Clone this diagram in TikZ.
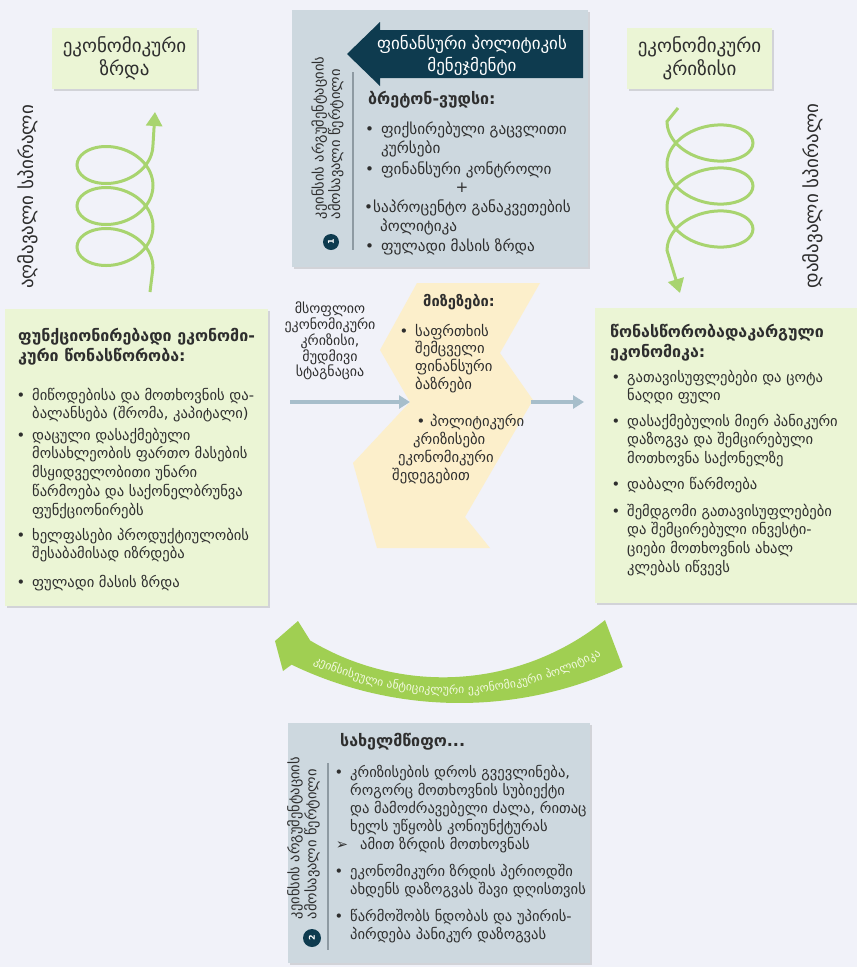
\documentclass[tikz,border=0pt]{standalone}
\usepackage{fontspec}
\setmainfont{DejaVu Sans}
\usetikzlibrary{arrows.meta,shadows,decorations.text}

\definecolor{bgc}{HTML}{F1F2F9}
\definecolor{lgreen}{HTML}{EBF5D5}
\definecolor{gboxc}{HTML}{CDD8DF}
\definecolor{dteal}{HTML}{0E3B4F}
\definecolor{spig}{HTML}{A8D46F}
\definecolor{bandc}{HTML}{A0CF52}
\definecolor{bandtxt}{HTML}{F2F9DF}
\definecolor{beige}{HTML}{FCEFCB}
\definecolor{flowc}{HTML}{A7BECB}
\definecolor{txtc}{HTML}{2E2E2E}
\definecolor{linec}{HTML}{8E9AA2}

\newcommand{\fsLabel}{\fontsize{19}{23}\selectfont}
\newcommand{\fsSide}{\fontsize{19}{20}\selectfont}
\newcommand{\fsArrow}{\fontsize{17}{22}\selectfont}
\newcommand{\fsTop}{\fontsize{15.2}{19.2}\selectfont}
\newcommand{\fsTitle}{\fontsize{16}{20}\selectfont\bfseries}
\newcommand{\fsBody}{\fontsize{14.6}{18.8}\selectfont}
\newcommand{\fsBot}{\fontsize{14.6}{18}\selectfont}
\newcommand{\fsVert}{\fontsize{14.5}{15.5}\selectfont}
\newcommand{\fsVertB}{\fontsize{14.5}{17}\selectfont}
\newcommand{\fsMid}{\fontsize{14}{15}\selectfont}
\newcommand{\fsZig}{\fontsize{14.7}{17.7}\selectfont}
\newcommand{\fsBand}{\fontsize{11.6}{11.6}\selectfont}
\newcommand{\bu}{\llap{•\hspace{7pt}}}

\tikzset{
 shad/.style={drop shadow={shadow xshift=1.5pt,shadow yshift=-1.5pt,opacity=0.22,fill=black!60}},
 labelbox/.style={fill=lgreen, shad, minimum width=145pt, minimum height=61pt, inner sep=0pt, font=\fsLabel, text=txtc, align=center},
 bigbox/.style={fill=lgreen, shad, anchor=north west, inner sep=0pt},
 greybox/.style={fill=gboxc, shad, anchor=north west, inner sep=0pt},
 txt/.style={text=txtc, inner sep=0pt, anchor=base west},
 spiral/.style={draw=spig, line width=3pt, -{Triangle[width=16pt,length=14pt]}},
 flow/.style={draw=flowc, line width=4pt, -{Triangle[width=13pt,length=11pt]}},
 vtext/.style={rotate=90, inner sep=0pt, text=txtc},
 numdot/.style={circle, fill=dteal, minimum size=16pt, inner sep=0pt, text=white, font=\fontsize{8}{8}\selectfont\bfseries, rotate=90},
}

\begin{document}
\begin{tikzpicture}[x=1pt,y=-1pt]
\fill[bgc] (0,0) rectangle (857,967);
\useasboundingbox (0,0) rectangle (857,967);

% ---------- top labels
\node[labelbox] (growth) at (124.5,58.5) {ეკონომიკური\\ზრდა};
\node[labelbox] (crisis) at (699.5,58.5) {ეკონომიკური\\კრიზისი};

% ---------- spirals
\coordinate (lsS) at (150,292);
\coordinate (lsE) at (155,112);
\draw[spiral] (lsS) -- plot[smooth, domain=0:3, samples=121, variable=\t] ({115+38*cos(360*\t)},{267.5-41*\t-28*sin(360*\t)}) -- (lsE);
\coordinate (rsS) at (678,108);
\coordinate (rsE) at (680,293);
\draw[spiral] (rsS) -- plot[smooth, domain=0:3, samples=121, variable=\t] ({710-43*cos(360*\t)},{121.5+43*\t+28*sin(360*\t)}) -- (rsE);

\node[vtext, font=\fsSide] (upsp) at (28,197) {აღმავალი სპირალი};
\node[vtext, font=\fsSide] (downsp) at (813,196) {დამავალი სპირალი};

% ---------- top grey box
\node[greybox, minimum width=296pt, minimum height=257pt] (topbox) at (292,10) {};
\fill[dteal] (347,54) -- (380,22) -- (380,30) -- (583,30) -- (583,78) -- (380,78) -- (380,86) -- cycle;
\node[text=white, font=\fsArrow, align=center, inner sep=0pt] (fpm) at (472,55) {ფინანსური პოლიტიკის\\მენეჯმენტი};
\draw[linec, line width=1.2pt] (353,72) -- (353,250);
\node[vtext, align=left, font=\fsVert] (keyn1) at (327.5,138) {კეინსის არგუმენტაციის\\ამოსავალი წერტილი};
\node[numdot] (n1) at (331,242) {1};
\node[txt, font=\fsTitle] (bw) at (368,104) {ბრეტონ-ვუდსი:};
\node[txt, font=\fsTop] (t1) at (381,134) {\begin{tabular}[t]{@{}l@{}}\bu ფიქსირებული გაცვლითი\\კურსები\end{tabular}};
\node[txt, font=\fsTop] (t2) at (381,174) {\bu ფინანსური კონტროლი};
\node[text=txtc, font=\fsTop, inner sep=0pt] (tplus) at (462,188) {+};
\node[txt, font=\fsTop] (t3) at (373,212) {\llap{•}საპროცენტო განაკვეთების};
\node[txt, font=\fsTop] (t3b) at (380,231) {პოლიტიკა};
\node[txt, font=\fsTop] (t4) at (381,251) {\bu ფულადი მასის ზრდა};

% ---------- left box
\node[bigbox, minimum width=263pt, minimum height=297pt] (leftbox) at (5,309) {};
\node[txt, font=\fsTitle] (ltitle) at (18,341) {\begin{tabular}[t]{@{}l@{}}ფუნქციონირებადი ეკონომი-\\კური წონასწორობა:\end{tabular}};
\node[txt, font=\fsBody] (l1) at (32,400) {\begin{tabular}[t]{@{}l@{}}\bu მიწოდებისა და მოთხოვნის და-\\ბალანსება (შრომა, კაპიტალი)\end{tabular}};
\node[txt, font=\fsBody] (l2) at (32,440) {\begin{tabular}[t]{@{}l@{}}\bu დაცული დასაქმებული\\მოსახლეობის ფართო მასების\\მსყიდველობითი უნარი\\წარმოება და საქონელბრუნვა\\ფუნქციონირებს\end{tabular}};
\node[txt, font=\fsBody] (l3) at (32,540) {\begin{tabular}[t]{@{}l@{}}\bu ხელფასები პროდუქტიულობის\\შესაბამისად იზრდება\end{tabular}};
\node[txt, font=\fsBody] (l4) at (32,587) {\bu ფულადი მასის ზრდა};

% ---------- right box
\node[bigbox, minimum width=262pt, minimum height=295pt] (rightbox) at (595,308) {};
\node[txt, font=\fsTitle] (rtitle) at (610,337) {\begin{tabular}[t]{@{}l@{}}წონასწორობადაკარგული\\ეკონომიკა:\end{tabular}};
\node[txt, font=\fsBody] (r1) at (627,382) {\begin{tabular}[t]{@{}l@{}}\bu გათავისუფლებები და ცოტა\\ნაღდი ფული\end{tabular}};
\node[txt, font=\fsBody] (r2) at (627,426) {\begin{tabular}[t]{@{}l@{}}\bu დასაქმებულის მიერ პანიკური\\დაზოგვა და შემცირებული\\მოთხოვნა საქონელზე\end{tabular}};
\node[txt, font=\fsBody] (r3) at (627,489) {\bu დაბალი წარმოება};
\node[txt, font=\fsBody] (r4) at (627,516) {\begin{tabular}[t]{@{}l@{}}\bu შემდგომი გათავისუფლებები\\და შემცირებული ინვესტი-\\ციები მოთხოვნის ახალ\\კლებას იწვევს\end{tabular}};

% ---------- middle
\node[font=\fsMid, align=center, text=txtc, inner sep=0pt] (world) at (330,341) {მსოფლიო\\ეკონომიკური\\კრიზისი,\\მუდმივი\\სტაგნაცია};
\fill[beige] (417,283) -- (540,283) -- (500,353) -- (533,400) -- (465,517) -- (490,548) -- (377,548) -- (353,463) -- (410,402) -- (380,350) -- cycle;
\coordinate (inS) at (290,402);
\coordinate (zigL) at (410,402);
\coordinate (zigR) at (531,402);
\coordinate (outE) at (584,402);
\draw[flow] (inS) -- (zigL);
\draw[flow] (zigR) -- (outE);
\node[text=txtc, font=\fsZig\bfseries, inner sep=0pt, anchor=base] (cause) at (459,306) {მიზეზები:};
\node[txt, font=\fsZig] (z1) at (415,336) {\begin{tabular}[t]{@{}l@{}}\bu საფრთხის\\შემცველი\\ფინანსური\\ბაზრები\end{tabular}};
\node[txt, font=\fsZig] (z2a) at (430,426) {\llap{•\hspace{5pt}}პოლიტიკური};
\node[txt, font=\fsZig] (z2b) at (413,444) {კრიზისები};
\node[txt, font=\fsZig] (z2c) at (398,462) {ეკონომიკური};
\node[txt, font=\fsZig] (z2d) at (392,480) {შედეგებით};

% ---------- curved band (anticyclical policy)
\coordinate (bandTip) at (275,641);
\fill[bandc]
  plot[smooth, domain=51.1:121, samples=40, variable=\a] ({443+258*cos(\a)},{419.3+258*sin(\a)})
  -- (298,621) -- (bandTip) -- (283,671) --
  plot[smooth, domain=115.7:65.1, samples=40, variable=\a] ({459.6+387.5*cos(\a)},{315.5+387.5*sin(\a)})
  -- cycle;
\path[decorate, decoration={text along path, text={|\fsBand\color{bandtxt}|კეინსისეული ანტიციკლური ეკონომიკური პოლიტიკა}, text align=center, raise=-4pt}] plot[smooth, domain=0:1, samples=40, variable=\s] ({450+314*cos(120-63*\s)},{376+314*sin(120-63*\s)});

% ---------- bottom grey box
\node[greybox, minimum width=302pt, minimum height=240pt] (botbox) at (288,723) {};
\draw[linec, line width=1.2pt] (328,763) -- (328,950);
\node[vtext, align=left, font=\fsVertB] (keyn2) at (303.5,838) {კეინსის არგუმენტაციის\\ამოსავალი წერტილი};
\node[numdot, minimum size=18pt] (n2) at (312,938) {2};
\node[txt, font=\fsTitle] (state) at (340,746) {სახელმწიფო...};
\node[txt, font=\fsBot] (b1) at (350,777) {\begin{tabular}[t]{@{}l@{}}\bu კრიზისების დროს გვევლინება,\\როგორც მოთხოვნის სუბიექტი\\და მამოძრავებელი ძალა, რითაც\\ხელს უწყობს კონიუნქტურას\end{tabular}};
\node[txt, font=\fsBot] (b1a) at (360,849) {\llap{➢\hspace{12pt}}ამით ზრდის მოთხოვნას};
\node[txt, font=\fsBot] (b2) at (350,876) {\begin{tabular}[t]{@{}l@{}}\bu ეკონომიკური ზრდის პერიოდში\\ახდენს დაზოგვას შავი დღისთვის\end{tabular}};
\node[txt, font=\fsBot] (b3) at (350,921) {\begin{tabular}[t]{@{}l@{}}\bu წარმოშობს ნდობას და უპირის-\\პირდება პანიკურ დაზოგვას\end{tabular}};
\end{tikzpicture}
\end{document}
